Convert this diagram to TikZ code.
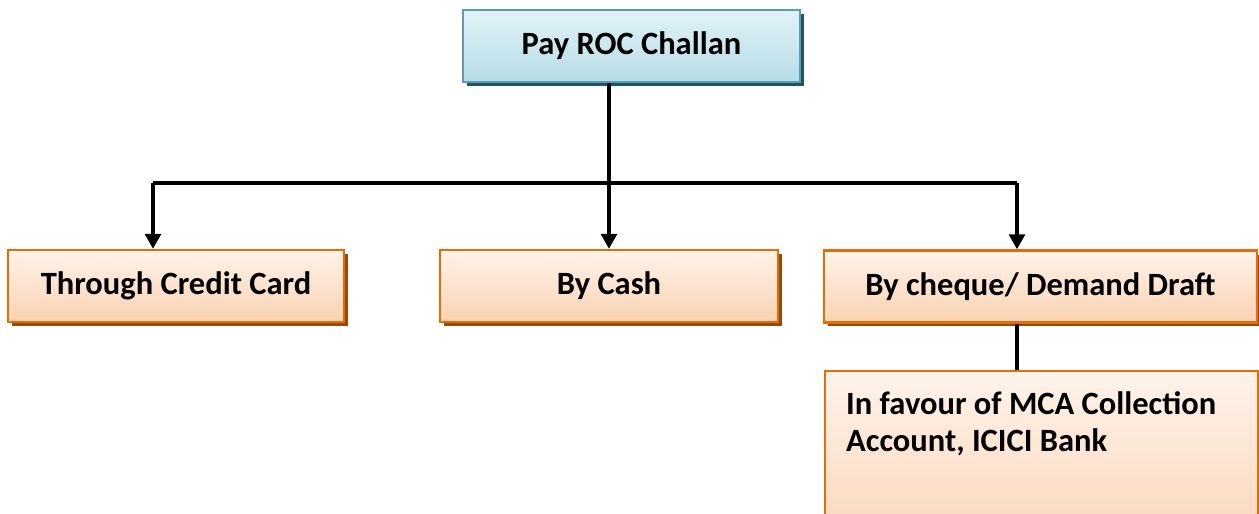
\documentclass[tikz,border=0pt]{standalone}
\usepackage{fontspec}
\setmainfont{Carlito}
\usetikzlibrary{arrows.meta,shadows}
\definecolor{tealline}{HTML}{5B9DB4}
\definecolor{tealshadow}{HTML}{23535F}
\definecolor{tealtop}{HTML}{E2F2F6}
\definecolor{tealbot}{HTML}{B6DCE7}
\definecolor{orline}{HTML}{E46C0A}
\definecolor{orshadow}{HTML}{984807}
\definecolor{ortop}{HTML}{FEF3EA}
\definecolor{orbot}{HTML}{F9D2B2}
\tikzset{
  headbox/.style={draw=tealline, line width=1.4pt, top color=tealtop, bottom color=tealbot,
    general shadow={fill=tealshadow, shadow xshift=0.08cm, shadow yshift=-0.08cm},
    minimum height=1.44cm, font=\fontsize{18.5}{22}\selectfont\bfseries},
  waybox/.style={draw=orline, line width=1.4pt, top color=ortop, bottom color=orbot,
    general shadow={fill=orshadow, shadow xshift=0.08cm, shadow yshift=-0.08cm},
    minimum height=1.44cm, font=\fontsize{18.5}{22}\selectfont\bfseries},
  link/.style={line width=1.8pt},
  arr/.style={-{Triangle[width=0.32cm,length=0.3cm]}}
}
\begin{document}
\begin{tikzpicture}[x=0.02cm,y=-0.02cm]
  \useasboundingbox (0,0) rectangle (1259,514);
  \node[headbox, minimum width=6.74cm] (pay) at (631.5,46) {Pay ROC Challan};
  \node[waybox, minimum width=6.72cm] (card) at (176,286) {Through Credit Card};
  \node[waybox, minimum width=6.76cm] (cash) at (609,286) {By Cash};
  \node[waybox, minimum width=8.66cm] (cheque) at (1040.5,286.5) {By cheque/ Demand Draft};
  \node[waybox, anchor=north west, minimum width=8.66cm, inner sep=0pt] (favour) at (824,370)
    {\parbox[t][4cm][t]{8.66cm}{\hspace*{0.42cm}\parbox[t]{8cm}{\raggedright\vspace*{0.4cm}%
      \fontsize{18.5}{21.5}\selectfont In favour of MCA Collection\\Account, ICICI Bank}}};
  \coordinate (left) at (153,183);
  \coordinate (right) at (1017,183);
  \begin{scope}[link]
    \draw (left) -- (right);
    \draw[arr] (pay.south -| cash.north) -- (cash.north);
    \draw[arr] (left) -- (card.north -| left);
    \draw[arr] (right) -- (cheque.north -| right);
    \draw (cheque.south -| right) -- (favour.north -| right);
  \end{scope}
\end{tikzpicture}
\end{document}
